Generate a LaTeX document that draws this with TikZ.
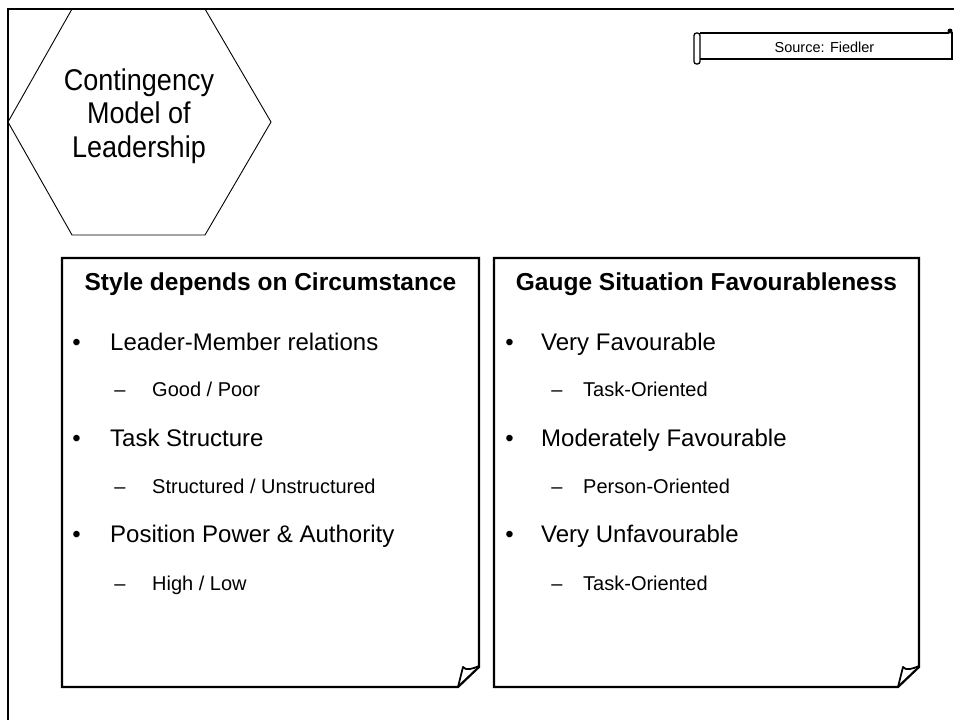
\documentclass[tikz,border=0pt]{standalone}
\usepackage{fontspec}
\setmainfont{Liberation Sans}
\begin{document}
\begin{tikzpicture}[x=1pt,y=-1pt,
  frame/.style={line width=2.6pt, line join=miter},
  card/.style={line width=2.2pt, line join=miter},
  flap/.style={line width=1.8pt, line join=round},
  hexline/.style={anchor=base, font=\fontsize{30}{34}\selectfont},
  head/.style={anchor=base, font=\fontsize{24.5}{28}\selectfont\bfseries},
  item/.style={anchor=base west, inner sep=0pt, font=\fontsize{24}{28}\selectfont},
  subitem/.style={anchor=base west, inner sep=0pt, font=\fontsize{20}{24}\selectfont},
  bul/.style={anchor=base, inner sep=0pt, font=\fontsize{24}{28}\selectfont},
  dsh/.style={anchor=base, inner sep=0pt, font=\fontsize{20}{24}\selectfont},
  srctext/.style={anchor=base, inner sep=0pt, font=\fontsize{14.5}{16}\selectfont}
]
\useasboundingbox (0,0) rectangle (954,720);

% page frame: top and left rules
\draw[frame] (8,720) -- (8,9) -- (954,9);

% title hexagon
\draw[line width=0.9pt] (8,122) -- (72,9) -- (205,9) -- (271,122) -- (205,235) -- (72,235) -- cycle;
\node[hexline] (hexa) at (139,90) {\scalebox{0.9}[1]{Contingency}};
\node[hexline] (hexb) at (139,123.5) {\scalebox{0.9}[1]{Model of}};
\node[hexline] (hexc) at (139,157) {\scalebox{0.9}[1]{Leadership}};

% source scroll
\draw[line width=1.3pt] (700,33) -- (949,33);
\draw[line width=1.3pt] (700,59) -- (952,59) -- (952,32);
\fill (950,31) circle (2.5);
\draw[line width=1.3pt, rounded corners=2.5pt] (694,33) rectangle (700,64);
\node[srctext] (source) at (824.5,52.5) {Source: Fiedler};

% left card
\draw[card] (479,667) -- (479,258) -- (62,258) -- (62,687) -- (458,687) -- cycle;
\draw[flap] (458,687) -- (463,667) .. controls (466,671) and (472,669) .. (479,666);

% right card
\draw[card] (919,667) -- (919,258) -- (494,258) -- (494,687) -- (898,687) -- cycle;
\draw[flap] (898,687) -- (903,667) .. controls (906,671) and (912,669) .. (919,666);

% left card text
\node[head] (headL) at (270.5,290) {Style depends on Circumstance};
\node[bul] (bL1) at (76.5,350) {•};
\node[item] (iL1) at (110,350) {Leader-Member relations};
\node[dsh] (dL1) at (120,396) {–};
\node[subitem] (sL1) at (152,396) {Good / Poor};
\node[bul] (bL2) at (76.5,446) {•};
\node[item] (iL2) at (110,446) {Task Structure};
\node[dsh] (dL2) at (120,493) {–};
\node[subitem] (sL2) at (152,493) {Structured / Unstructured};
\node[bul] (bL3) at (76.5,542) {•};
\node[item] (iL3) at (110,542) {Position Power \& Authority};
\node[dsh] (dL3) at (120,590) {–};
\node[subitem] (sL3) at (152,590) {High / Low};

% right card text
\node[head] (headR) at (706.5,290) {Gauge Situation Favourableness};
\node[bul] (bR1) at (509.5,350) {•};
\node[item] (iR1) at (541,350) {Very Favourable};
\node[dsh] (dR1) at (557,396) {–};
\node[subitem] (sR1) at (583,396) {Task-Oriented};
\node[bul] (bR2) at (509.5,446) {•};
\node[item] (iR2) at (541,446) {Moderately Favourable};
\node[dsh] (dR2) at (557,493) {–};
\node[subitem] (sR2) at (583,493) {Person-Oriented};
\node[bul] (bR3) at (509.5,542) {•};
\node[item] (iR3) at (541,542) {Very Unfavourable};
\node[dsh] (dR3) at (557,590) {–};
\node[subitem] (sR3) at (583,590) {Task-Oriented};
\end{tikzpicture}
\end{document}
